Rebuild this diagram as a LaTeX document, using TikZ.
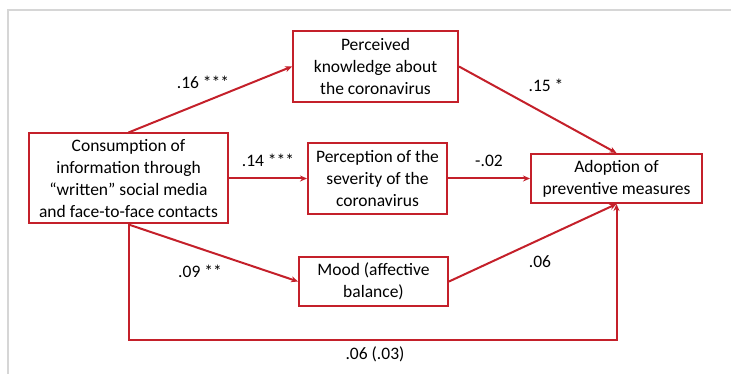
\documentclass[tikz,border=0pt]{standalone}
\usepackage{fontspec}
\setmainfont{Carlito}
\usetikzlibrary{arrows.meta}
\definecolor{boxred}{RGB}{196,32,42}
\definecolor{framegray}{RGB}{214,214,214}

\begin{document}
\begin{tikzpicture}[x=1pt,y=-1pt]
  \tikzstyle{B}=[draw=boxred,line width=2pt,align=center,inner sep=2pt,
    font=\fontsize{17.5}{22}\selectfont]
  \tikzstyle{E}=[boxred,line width=2pt,-{Stealth[length=7pt,width=6pt]}]
  \tikzstyle{L}=[font=\fontsize{17.5}{20}\selectfont]
  \useasboundingbox (0,0) rectangle (731,374);
  \draw[framegray,line width=1.2pt] (731,10) -- (8,10) -- (8,374);

  \node[B,minimum width=199pt,minimum height=90pt] (C) at (128.5,178.5)
    {Consumption of\\information through\\“written” social media\\and face-to-face contacts};
  \node[B,minimum width=165pt,minimum height=71pt] (K) at (375.5,66.5)
    {Perceived\\knowledge about\\the coronavirus};
  \node[B,minimum width=139pt,minimum height=71pt] (S) at (377.5,178.5)
    {Perception of the\\severity of the\\coronavirus};
  \node[B,minimum width=171pt,minimum height=49pt] (A) at (616.5,178.5)
    {Adoption of\\preventive measures};
  \node[B,minimum width=149pt,minimum height=49pt] (M) at (373.5,281.5)
    {Mood (affective\\balance)};

  \draw[E] (C.north) -- (K.west);
  \draw[E] (C.east) -- (S.west);
  \draw[E] (S.east) -- (A.west);
  \draw[E] (K.east) -- (A.north);
  \draw[E] (C.south) -- (M.west);
  \draw[E] (M.east) -- (A.south);
  \coordinate (bot) at (0,340);
  \draw[E] (C.south) -- (C.south |- bot) -- (A.south |- bot) -- (A.south);

  \node[L] (l1) at (203,82) {.16 ***};
  \node[L] (l2) at (268,160) {.14 ***};
  \node[L] (l3) at (489,161) {-.02};
  \node[L] (l4) at (546,85) {.15 *};
  \node[L] (l5) at (200,271) {.09 **};
  \node[L] (l6) at (540,262) {.06};
  \node[L] (l7) at (375,354) {.06 (.03)};
\end{tikzpicture}
\end{document}
